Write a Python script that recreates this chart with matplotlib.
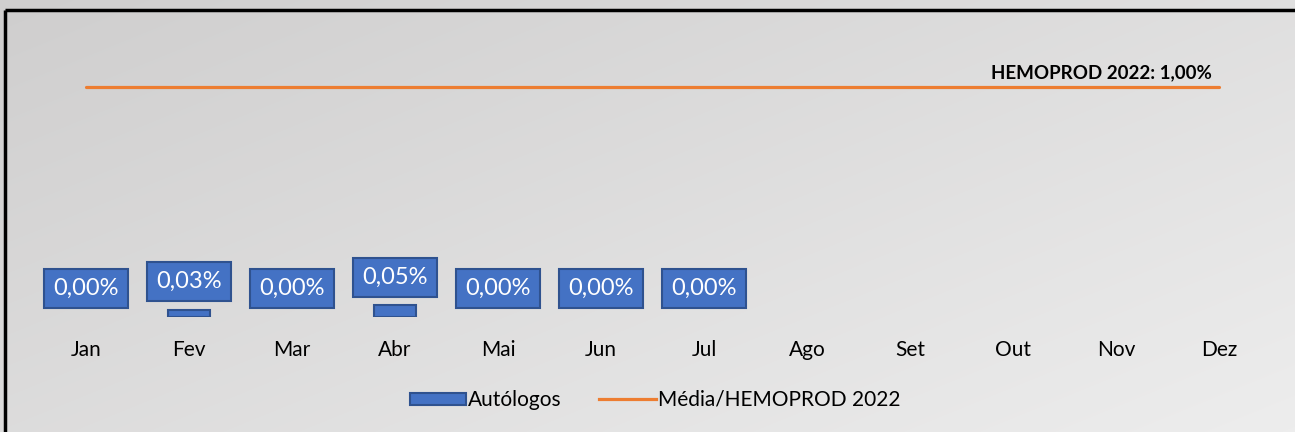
"""Autólogos monthly rate vs HEMOPROD 2022 average."""

import numpy as np
import matplotlib
matplotlib.use("Agg")
import matplotlib.pyplot as plt
from matplotlib.patches import Patch
from matplotlib.lines import Line2D

plt.rcParams["font.family"] = ["Lato", "DejaVu Sans"]

months = ["Jan", "Fev", "Mar", "Abr", "Mai", "Jun", "Jul", "Ago", "Set", "Out", "Nov", "Dez"]
autologos = [0.00, 0.03, 0.00, 0.05, 0.00, 0.00, 0.00]   # % (Jan-Jul)
media_hemoprod = [1.00] * len(months)                    # %
media_label = "HEMOPROD 2022: 1,00%"

BAR_COLOR = "#4472C4"
BAR_EDGE = "#2F528F"
LINE_COLOR = "#ED7D31"

W, H = 1295, 432
fig = plt.figure(figsize=(W / 100, H / 100), dpi=100)

# gradient background, pixel exact
yy, xx = np.mgrid[0:1:H * 1j, 0:1:W * 1j]
t = 0.55 * xx + 0.45 * yy
c0 = np.array([0.812, 0.808, 0.808])
c1 = np.array([0.930, 0.930, 0.930])
img = c0[None, None, :] * (1 - t[..., None]) + c1[None, None, :] * t[..., None]
fig.figimage(img, xo=0, yo=0, origin="upper", zorder=-10)

# black frame on top and left only
bx = 5 / W
by = 1 - 10 / H
fig.add_artist(Line2D([bx, 1.02], [by, by], color="black", lw=2.5,
                      solid_capstyle="butt", transform=fig.transFigure))
fig.add_artist(Line2D([bx, bx], [-0.02, by], color="black", lw=2.5,
                      solid_capstyle="butt", transform=fig.transFigure))

ax = fig.add_axes([34.5 / W, (H - 316.5) / H, 1236 / W, 276 / H])
ax.patch.set_alpha(0)
x = np.arange(len(months))

edge_w = [1.5 if v > 0 else 0 for v in autologos]
ax.bar(x[:len(autologos)], autologos, width=0.4, color=BAR_COLOR,
       edgecolor=BAR_EDGE, linewidth=edge_w, zorder=3)
ax.plot(x, media_hemoprod, color=LINE_COLOR, lw=2.3, solid_capstyle="round", zorder=2)

for xi, v in zip(x, autologos):
    ax.annotate(f"{v:.2f}%".replace(".", ","), (xi, v), xytext=(0, 20),
                textcoords="offset points", ha="center", va="center",
                fontsize=17, color="white", zorder=5,
                bbox=dict(boxstyle="square,pad=0.38", fc=BAR_COLOR, ec=BAR_EDGE, lw=1.5))

ax.annotate(media_label, (x[-1], media_hemoprod[-1]), xytext=(-5, 10),
            textcoords="offset points", ha="right", va="center",
            fontsize=13.5, fontweight="bold", color="black")

ax.set_xlim(-0.5, len(months) - 0.5)
ax.set_ylim(0, 1.2)
ax.set_xticks(x)
ax.set_xticklabels(months, fontsize=15)
ax.tick_params(axis="x", length=0, pad=17)
ax.set_yticks([])
for s in ax.spines.values():
    s.set_visible(False)

handles = [Patch(facecolor=BAR_COLOR, edgecolor=BAR_EDGE, linewidth=1.5),
           Line2D([0], [0], color=LINE_COLOR, lw=2.3)]
fig.legend(handles, ["Autólogos", "Média/HEMOPROD 2022"], loc="center",
           bbox_to_anchor=(655 / W, 1 - 400 / H), ncol=2, frameon=False,
           fontsize=15, handlelength=2.7, handleheight=0.5, handletextpad=0.1,
           columnspacing=1.8)

fig.savefig("out.png", dpi=100)
